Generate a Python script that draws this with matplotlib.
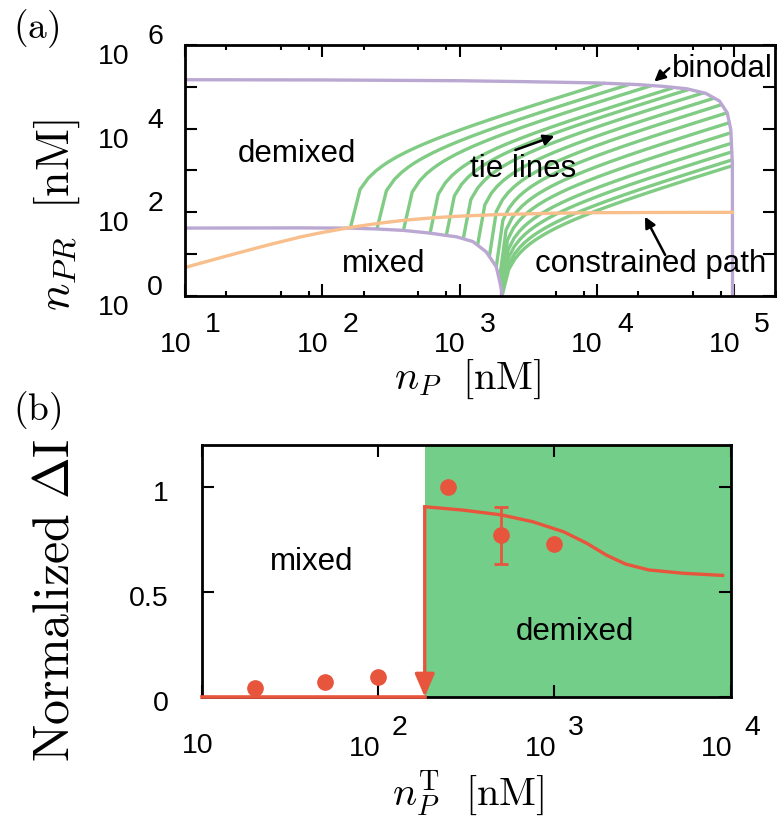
import numpy as np
import matplotlib
matplotlib.use("Agg")
import matplotlib.pyplot as plt

plt.rcParams['font.family'] = ['Liberation Sans', 'DejaVu Sans']
plt.rcParams['mathtext.fontset'] = 'cm'

# ---------------- panel (a) data ----------------
upper_nP = [10, 100, 1000, 3000, 10000, 20000, 30000, 45000, 62000, 78000, 89000, 94500, 97000, 97300]
upper_nPR = [1.48e5, 1.46e5, 1.40e5, 1.33e5, 1.24e5, 1.13e5, 1.03e5, 9.0e4, 7.0e4, 4.6e4, 2.4e4, 9.5e3, 1.5e3, 1.0]
lower_nP = [10, 68, 158, 250, 390, 600, 800, 950, 1250, 1560, 1850, 1950, 2010, 2040]
lower_nPR = [42, 42.5, 42, 40, 37, 32, 28, 26, 20, 11.4, 5, 2.4, 1.5, 1.0]
path_nP = [10, 20, 40, 70, 100, 163, 250, 400, 640, 1000, 2000, 5000, 10000, 30000, 97000]
path_nPR = [4.8, 9.0, 16.5, 26, 33, 44, 54, 65, 74, 81, 89, 95.5, 98, 99.5, 100]
# tie lines: end points on the lower and upper binodal branches
tie_lo_nP = [160, 250, 390, 610, 800, 1060, 1350, 1650, 1850, 1950, 2000, 2020, 2030, 2035, 2040]
tie_lo_nPR = [42, 40, 37, 32, 28, 22, 16, 9, 5, 2.4, 1.8, 1.4, 1.2, 1.1, 1.02]
tie_hi_nP = [11500, 17500, 25000, 36000, 47000, 60000, 72000, 82000, 89000, 93000, 95000, 96000, 96500, 97000, 97000]
tie_hi_nPR = [1.24e5, 1.16e5, 1.07e5, 9.5e4, 8.7e4, 7.2e4, 5.4e4, 3.8e4, 2.4e4, 1.4e4, 8000, 4500, 2800, 1800, 1300]
a_xticks = [1e1, 1e2, 1e3, 1e4, 1e5]
a_xminor = [m * 10.0**k for k in range(1, 6) for m in (2, 5, 8)]
a_yticks = [1e0, 1e1, 1e2, 1e3, 1e4, 1e5, 1e6]
a_ylabeled = [1e0, 1e2, 1e4, 1e6]

# ---------------- panel (b) data ----------------
nP_transition = 184
nP_model = [184, 303, 501, 751, 1127, 1528, 1969, 2536, 3436, 5420, 8990]
dI_model = [0.906, 0.890, 0.867, 0.835, 0.787, 0.732, 0.676, 0.633, 0.605, 0.589, 0.579]
nP_exp = [20, 50, 100, 250, 500, 1000]
dI_exp = [0.045, 0.07, 0.097, 1.0, 0.77, 0.727]
dI_err = [0, 0, 0, 0, 0.135, 0]
b_xticks = [1e1, 1e2, 1e3, 1e4]
b_yticks = [0, 0.5, 1]
b_ylabels = ['0', '0.5', '1']

PURPLE = '#bba8d2'
GREEN = '#80cc84'
ORANGE = '#f8bf8c'
FILL = '#72ce88'
RED = '#e8553d'
PX = 0.72  # points per pixel at dpi 100

fig = plt.figure(figsize=(7.77, 8.21), dpi=100)
W, H = 777.0, 821.0
axA = fig.add_axes([185 / W, (H - 296) / H, (775.5 - 185) / W, (296 - 45) / H])
axB = fig.add_axes([201.7 / W, (H - 697) / H, (730.7 - 201.7) / W, (697 - 445) / H])

# ---------- panel (a) ----------
axA.set_xscale('log')
axA.set_yscale('log')
axA.set_xlim(10, 2e5)
axA.set_ylim(1, 1e6)
for x1, y1, x2, y2 in zip(tie_lo_nP, tie_lo_nPR, tie_hi_nP, tie_hi_nPR):
    # a tie line is a straight segment in linear (n_P, n_PR) space
    t = np.linspace(0, 1, 400)
    axA.plot(x1 + (x2 - x1) * t, y1 + (y2 - y1) * t, color=GREEN, lw=2.4,
             solid_capstyle='butt', zorder=2)
axA.plot(upper_nP, upper_nPR, color=PURPLE, lw=2.4, zorder=3)
axA.plot(lower_nP, lower_nPR, color=PURPLE, lw=2.4, zorder=3)
axA.plot(path_nP, path_nPR, color=ORANGE, lw=2.4, zorder=4)

TFS = 22.5
axA.text(65, 1630, 'demixed', ha='center', va='baseline', fontsize=TFS)
axA.text(2900, 711, 'tie lines', ha='center', va='baseline', fontsize=TFS, zorder=6)
axA.text(278, 3.8, 'mixed', ha='center', va='baseline', fontsize=TFS)
axA.text(24500, 3.8, 'constrained path', ha='center', va='baseline', fontsize=TFS)
axA.text(35400, 1.75e5, 'binodal', ha='left', va='baseline', fontsize=TFS)
ap = dict(arrowstyle='-|>', color='black', lw=1.8, mutation_scale=16, shrinkA=0, shrinkB=0)
axA.annotate('', xy=(26200, 1.33e5), xytext=(33650, 2.78e5), arrowprops=ap)
axA.annotate('', xy=(4910, 6680), xytext=(2550, 3090), arrowprops=ap)
axA.annotate('', xy=(22400, 78.7), xytext=(31400, 9.6), arrowprops=ap)

axA.xaxis.set_major_locator(matplotlib.ticker.FixedLocator(a_xticks))
axA.xaxis.set_minor_locator(matplotlib.ticker.FixedLocator(a_xminor))
axA.yaxis.set_major_locator(matplotlib.ticker.FixedLocator(a_yticks))
axA.yaxis.set_minor_locator(matplotlib.ticker.NullLocator())

FS = 20.5
trx = axA.get_xaxis_transform()
for v in a_xticks:
    e = str(int(round(np.log10(v))))
    axA.annotate('10', xy=(v, 0), xycoords=trx, xytext=(6 * PX, -56 * PX),
                 textcoords='offset points', ha='right', va='baseline', fontsize=FS,
                 annotation_clip=False)
    axA.annotate(e, xy=(v, 0), xycoords=trx, xytext=(20 * PX, -36 * PX),
                 textcoords='offset points', ha='left', va='baseline', fontsize=FS,
                 annotation_clip=False)
try_ = axA.get_yaxis_transform()
for v in a_ylabeled:
    e = str(int(round(np.log10(v))))
    axA.annotate('10', xy=(0, v), xycoords=try_, xytext=(-56 * PX, -19 * PX),
                 textcoords='offset points', ha='right', va='baseline', fontsize=FS,
                 annotation_clip=False)
    axA.annotate(e, xy=(0, v), xycoords=try_, xytext=(-22 * PX, 1 * PX),
                 textcoords='offset points', ha='right', va='baseline', fontsize=FS,
                 annotation_clip=False)

# ---------- panel (b) ----------
axB.set_xscale('log')
axB.set_xlim(10, 1e4)
axB.set_ylim(0, 1.2)
axB.axvspan(nP_transition, 1e4, color=FILL, lw=0, zorder=0)
axB.plot([10, nP_transition], [0, 0], color=RED, lw=2.6, zorder=11, clip_on=False)
axB.annotate('', xy=(nP_transition, 0), xytext=(nP_transition, dI_model[0]),
             arrowprops=dict(arrowstyle='-|>,head_length=0.7,head_width=0.3', color=RED,
                             lw=2.4, mutation_scale=20, shrinkA=0, shrinkB=0), zorder=12)
axB.plot(nP_model, dI_model, color=RED, lw=2.4, zorder=3)
axB.plot(nP_exp, dI_exp, 'o', color=RED, ms=11, zorder=5)
idx = [i for i, e in enumerate(dI_err) if e > 0]
axB.errorbar([nP_exp[i] for i in idx], [dI_exp[i] for i in idx],
             yerr=[dI_err[i] for i in idx], fmt='none', ecolor=RED, elinewidth=2,
             capsize=5, capthick=2, zorder=5)
axB.text(41.9, 0.605, 'mixed', ha='center', va='baseline', fontsize=TFS)
axB.text(1306, 0.271, 'demixed', ha='center', va='baseline', fontsize=TFS)

axB.xaxis.set_major_locator(matplotlib.ticker.FixedLocator(b_xticks))
axB.xaxis.set_minor_locator(matplotlib.ticker.NullLocator())
axB.yaxis.set_major_locator(matplotlib.ticker.FixedLocator(b_yticks))

trx = axB.get_xaxis_transform()
for v in b_xticks:
    e = int(round(np.log10(v)))
    if e == 1:
        axB.annotate('10', xy=(v, 0), xycoords=trx, xytext=(-4 * PX, -56 * PX),
                     textcoords='offset points', ha='center', va='baseline', fontsize=FS,
                     annotation_clip=False)
        continue
    axB.annotate('10', xy=(v, 0), xycoords=trx, xytext=(2 * PX, -59 * PX),
                 textcoords='offset points', ha='right', va='baseline', fontsize=FS,
                 annotation_clip=False)
    axB.annotate(str(e), xy=(v, 0), xycoords=trx, xytext=(14 * PX, -38 * PX),
                 textcoords='offset points', ha='left', va='baseline', fontsize=FS,
                 annotation_clip=False)
try_ = axB.get_yaxis_transform()
for v, s in zip(b_yticks, b_ylabels):
    axB.annotate(s, xy=(0, v), xycoords=try_, xytext=(-33 * PX, -14 * PX),
                 textcoords='offset points', ha='right', va='baseline', fontsize=FS,
                 annotation_clip=False)

for ax in (axA, axB):
    ax.tick_params(which='both', direction='in', top=True, right=True,
                   labelbottom=False, labelleft=False, width=1.5)
    ax.tick_params(which='major', length=8.5)
    ax.tick_params(which='minor', length=3.8)
    for sp in ax.spines.values():
        sp.set_linewidth(2.0)
        sp.set_zorder(10)

# axis labels (LaTeX-like)
LFS = 29
fig.text(468 / W, 1 - 389 / H, r'$n_P\ \ [\mathrm{nM}]$', ha='center', va='baseline', fontsize=LFS)
fig.text(468 / W, 1 - 806 / H, r'$n_P^{\mathrm{T}}\ \ [\mathrm{nM}]$', ha='center', va='baseline', fontsize=LFS)
fig.text(57 / W, 1 - 215 / H, r'$n_{PR}\ \ [\mathrm{nM}]$', ha='center', va='center', rotation=90, fontsize=33)
fig.text(56 / W, 1 - 600 / H, r'$\mathrm{Normalized}\ \Delta\mathrm{I}$', ha='center', va='center', rotation=90, fontsize=36)
fig.text(13 / W, 1 - 38 / H, r'$\mathrm{(a)}$', ha='left', va='baseline', fontsize=27)
fig.text(13 / W, 1 - 420 / H, r'$\mathrm{(b)}$', ha='left', va='baseline', fontsize=27)

fig.savefig('out.png', dpi=100)
